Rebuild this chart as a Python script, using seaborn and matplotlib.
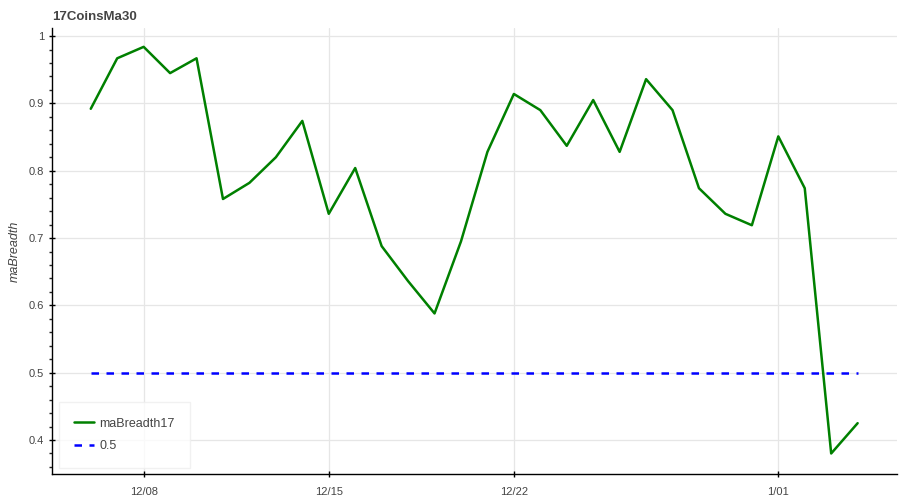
import matplotlib.pyplot as plt
from matplotlib.ticker import AutoMinorLocator
import pandas as pd
import seaborn as sns

dates = pd.date_range("2023-12-06", "2024-01-04", freq="D")
ma_breadth17 = [0.892, 0.967, 0.984, 0.945, 0.967, 0.758, 0.782, 0.820, 0.874, 0.736,
                0.804, 0.688, 0.636, 0.588, 0.695, 0.828, 0.914, 0.890, 0.837, 0.905,
                0.828, 0.936, 0.890, 0.774, 0.736, 0.719, 0.851, 0.774, 0.380, 0.425]
threshold = [0.5] * len(dates)
tick_dates = ["2023-12-08", "2023-12-15", "2023-12-22", "2024-01-01"]
tick_labels = ["12/08", "12/15", "12/22", "1/01"]

df = pd.DataFrame({"date": dates, "maBreadth17": ma_breadth17, "half": threshold})

sns.set_style("white")
plt.rcParams["font.family"] = ["Liberation Sans", "DejaVu Sans"]

fig = plt.figure(figsize=(9, 5), dpi=100)
ax = fig.add_axes([0.058, 0.052, 0.939, 0.892])

sns.lineplot(data=df, x="date", y="maBreadth17", color="green", lw=1.8,
             label="maBreadth17", ax=ax)
sns.lineplot(data=df, x="date", y="half", color="blue", lw=1.8,
             label="0.5", ax=ax, dashes=False)
ax.lines[1].set_linestyle((0, (3, 3)))

ax.set_xlim(pd.Timestamp("2023-12-04 13:00"), pd.Timestamp("2024-01-05 12:00"))
ax.set_ylim(0.3495, 1.012)
ax.set_xticks(pd.to_datetime(tick_dates))
ax.set_xticklabels(tick_labels)
ax.set_yticks([0.4, 0.5, 0.6, 0.7, 0.8, 0.9, 1.0])
ax.set_yticklabels(["0.4", "0.5", "0.6", "0.7", "0.8", "0.9", "1"])
ax.yaxis.set_minor_locator(AutoMinorLocator(5))

ax.grid(True, color="#e6e6e6", lw=0.9)
ax.set_axisbelow(True)
for s in ["top", "right"]:
    ax.spines[s].set_visible(False)
for s in ["left", "bottom"]:
    ax.spines[s].set_color("black")
    ax.spines[s].set_linewidth(1)

ax.tick_params(axis="both", which="major", direction="inout", length=4.5, width=1,
               labelsize=8, colors="black", labelcolor="#444444", left=True, bottom=True)
ax.tick_params(axis="y", which="minor", direction="out", length=2, width=1, left=True)
ax.tick_params(axis="x", pad=7)

ax.set_xlabel("")
ax.set_ylabel("maBreadth", fontsize=9, style="italic", color="#444444", labelpad=6)
ax.set_title("17CoinsMa30", loc="left", fontsize=9.5, fontweight="bold",
             color="#444444", pad=6)

leg = ax.legend(loc="lower left", fontsize=9, frameon=True, borderpad=0.95,
                handlelength=1.55, handletextpad=0.45, labelspacing=0.85,
                borderaxespad=0, bbox_to_anchor=(0.012, 0.022))
leg.get_frame().set_edgecolor("#eeeeee")
leg.get_frame().set_linewidth(1)
leg.get_frame().set_boxstyle("square")
for t in leg.get_texts():
    t.set_color("#444444")

fig.savefig("out.png", dpi=100)
